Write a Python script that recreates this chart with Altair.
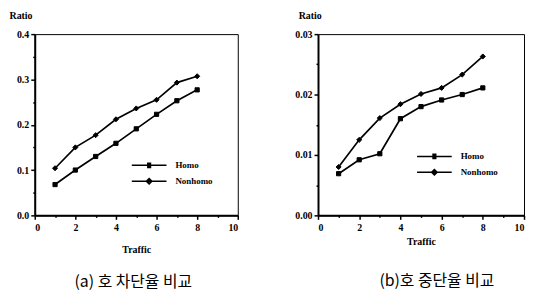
import altair as alt
import pandas as pd

traffic = [1, 2, 3, 4, 5, 6, 7, 8]
series = ["Homo", "Nonhomo"]
a_homo = [0.068, 0.100, 0.130, 0.159, 0.191, 0.223, 0.253, 0.277]
a_non = [0.104, 0.150, 0.177, 0.212, 0.236, 0.255, 0.293, 0.307]
b_homo = [0.0069, 0.0092, 0.0102, 0.0160, 0.0180, 0.0191, 0.0200, 0.0211]
b_non = [0.0080, 0.0125, 0.0161, 0.0184, 0.0201, 0.0211, 0.0233, 0.0263]
x_ticks = list(range(0, 11))
a_yticks = [0.0, 0.05, 0.1, 0.15, 0.2, 0.25, 0.3, 0.35, 0.4]
b_yticks = [0.0, 0.005, 0.01, 0.015, 0.02, 0.025, 0.03]
caption_a = "(a) 호 차단율 비교"
caption_b = "(b)호 중단율 비교"

SERIF = "Liberation Serif"
# legend sample: a line with a (hatched, so it looks solid) square / diamond on it
path_homo = "M-1,0H1M-0.12,-0.12H0.12M-0.12,-0.06H0.12M-0.12,0.06H0.12M-0.12,0.12H0.12"
path_non = "M-1,0H1M0,-0.16L0.16,0L0,0.16L-0.16,0ZM-0.08,0H0.08M0,-0.08V0.08"


def frame(homo, non):
    rows = []
    for t, h, n in zip(traffic, homo, non):
        rows.append({"Traffic": t, "Ratio": h, "s": series[0]})
        rows.append({"Traffic": t, "Ratio": n, "s": series[1]})
    return pd.DataFrame(rows)


def leg_props(x, y):
    return dict(
        title=None,
        orient="none",
        legendX=x,
        legendY=y,
        symbolSize=1225,
        symbolStrokeColor="black",
        symbolStrokeWidth=1.5,
        symbolOpacity=1,
        labelOffset=8,
        labelFont=SERIF,
        labelFontWeight="bold",
        labelFontSize=9,
        labelColor="black",
        padding=0,
    )


def panel(df, yvals, ystep, yfmt, caption, dx, legx, legy, width, title_x, xpad, cap_off):
    ymax = yvals[-1]
    x = alt.X(
        "Traffic:Q",
        scale=alt.Scale(domain=[0, 10], nice=False),
        axis=alt.Axis(
            values=x_ticks,
            title="Traffic",
            labelExpr="datum.value % 2 === 0 ? datum.label : ''",
            tickSize={"condition": {"test": "datum.value % 2 === 0", "value": 4}, "value": 2},
            labelPadding=3,
            titlePadding=xpad,
        ),
    )
    major = f"round(datum.value/{ystep}) % 2 === 0"
    y = alt.Y(
        "Ratio:Q",
        scale=alt.Scale(domain=[0, ymax], nice=False),
        axis=alt.Axis(
            values=yvals,
            format=yfmt,
            title="Ratio",
            labelExpr=f"{major} ? datum.label : ''",
            tickSize={"condition": {"test": major, "value": 4}, "value": 2},
            titleAngle=0,
            titleAlign="left",
            titleBaseline="middle",
            titleX=title_x,
            titleY=-19,
        ),
    )
    base = alt.Chart(df)
    line = base.mark_line(color="black", strokeWidth=1.7).encode(x=x, y=y, detail="s:N")
    pts = base.mark_point(
        filled=True, fill="black", stroke="black", strokeWidth=1, opacity=1
    ).encode(
        x=x,
        y=y,
        shape=alt.Shape("s:N", scale=alt.Scale(domain=series, range=["square", "diamond"]), legend=None),
        size=alt.Size("s:N", scale=alt.Scale(domain=series, range=[18, 26]), legend=None),
    )
    empty = base.transform_filter("false")
    leg1 = empty.mark_point(filled=False, color="black", strokeWidth=1.5, opacity=1).encode(
        x=x,
        y=y,
        shape=alt.Shape(
            "s:N",
            scale=alt.Scale(domain=[series[0]], range=[path_homo]),
            legend=alt.Legend(**leg_props(legx, legy)),
        ),
    )
    leg2 = empty.mark_point(filled=False, strokeWidth=1.5, opacity=1).encode(
        x=x,
        y=y,
        color=alt.Color(
            "s:N",
            scale=alt.Scale(domain=[series[1]], range=["black"]),
            legend=alt.Legend(symbolType=path_non, **leg_props(legx, legy + 16)),
        ),
    )
    return alt.layer(line, pts, leg1, leg2).properties(
        width=width,
        height=183,
        title=alt.TitleParams(
            caption,
            orient="bottom",
            font="Noto Sans CJK KR",
            fontSize=16,
            fontWeight="normal",
            color="black",
            offset=cap_off,
            dx=dx,
        ),
    ).resolve_scale(shape="independent", size="independent", color="independent")


pa = panel(frame(a_homo, a_non), a_yticks, 0.05, ".1f", caption_a, -3, 97, 114, 205, -26, 12, 20)
pb = panel(frame(b_homo, b_non), b_yticks, 0.005, ".2f", caption_b, 16, 99, 105, 208, -20, 4, 27)

chart = (
    alt.hconcat(pa, pb, spacing=81, bounds="flush")
    .properties(padding={"left": 0, "top": 0, "right": 0, "bottom": 0})
    .configure_view(stroke="black", strokeWidth=1)
    .configure_axis(
        grid=False,
        domainColor="black",
        domainWidth=2,
        tickColor="black",
        tickWidth=1.5,
        labelFont=SERIF,
        labelFontWeight="bold",
        labelFontSize=10,
        labelColor="black",
        titleFont=SERIF,
        titleFontWeight="bold",
        titleFontSize=10,
        titleColor="black",
    )
    .configure_title(anchor="middle")
)

chart.save("out.html", embed_options={"renderer": "svg", "actions": False})
